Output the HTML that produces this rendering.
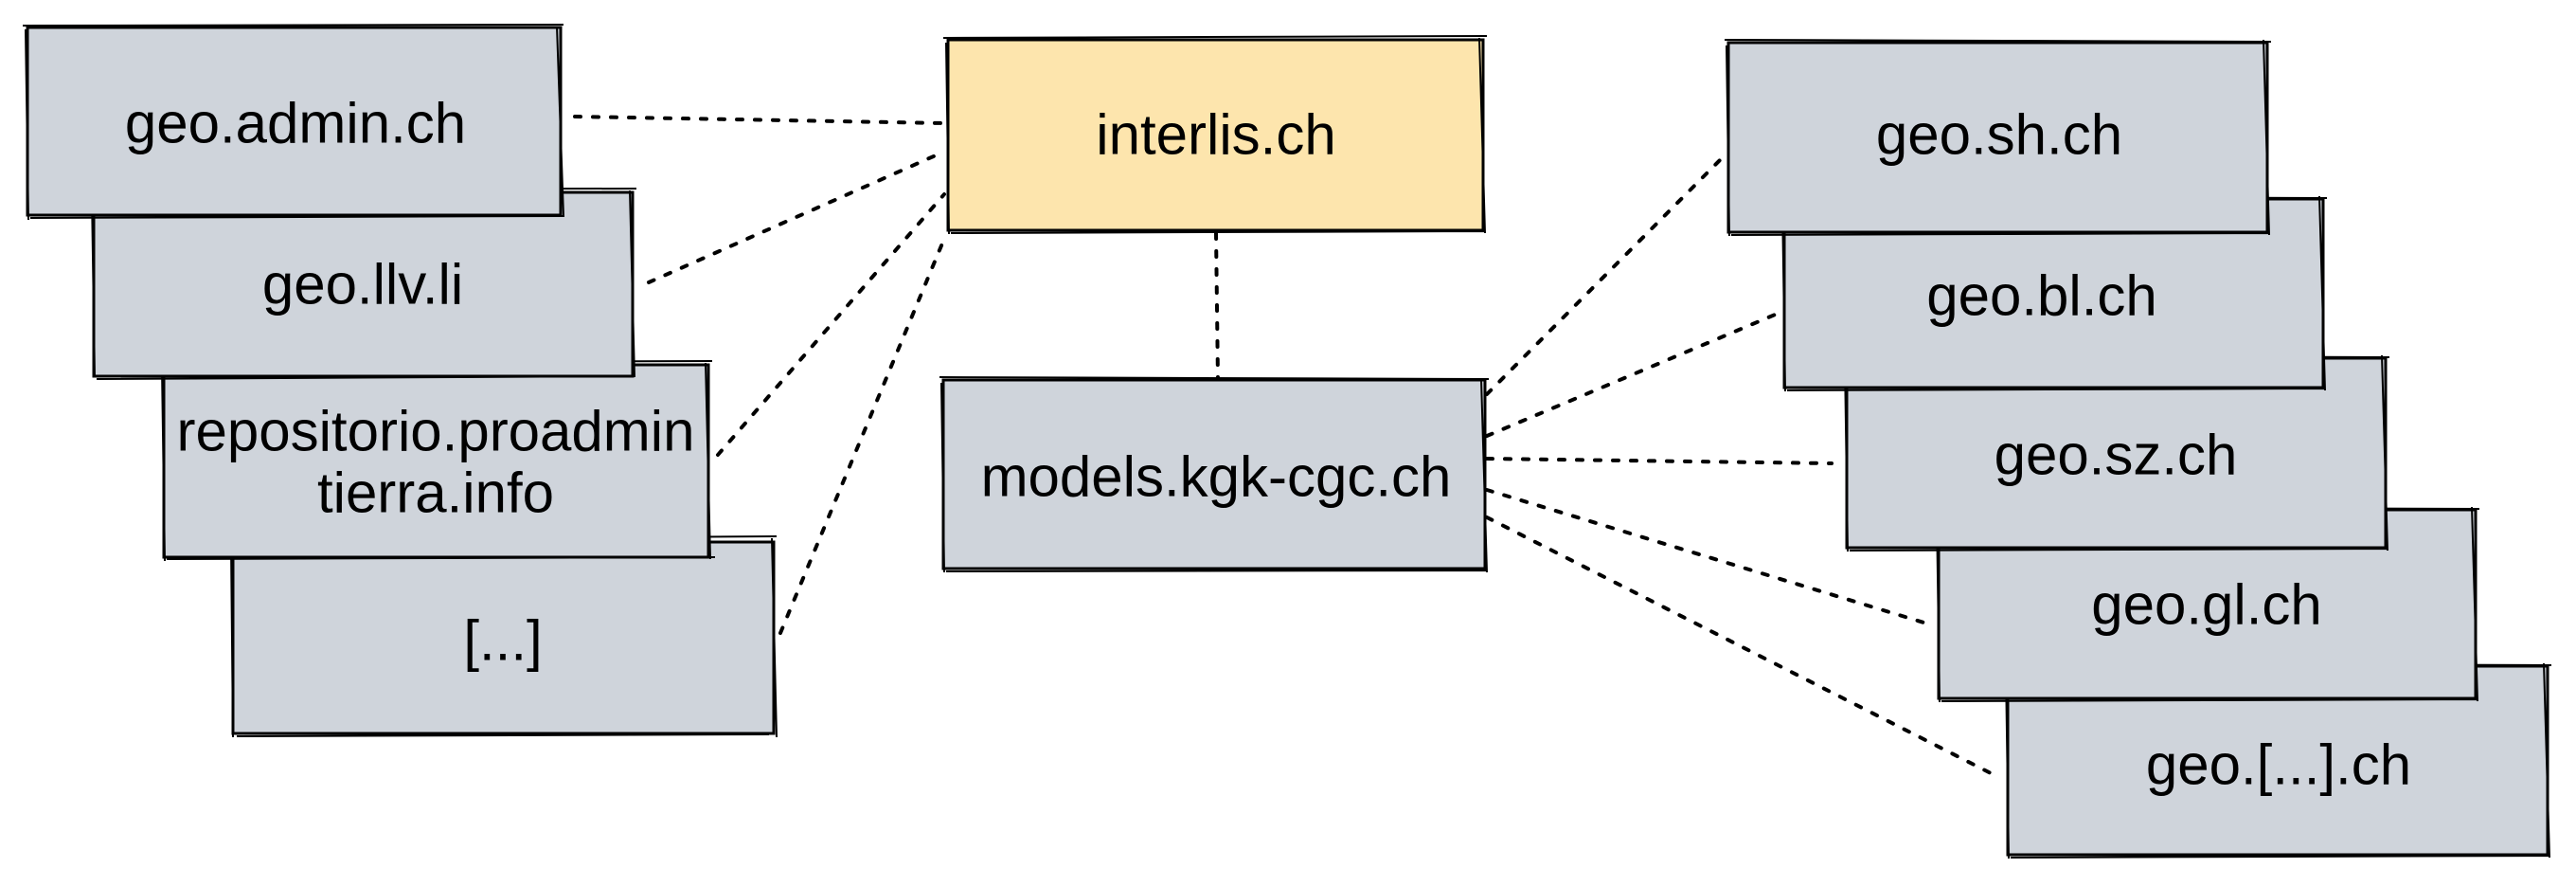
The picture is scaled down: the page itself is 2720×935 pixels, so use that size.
<!DOCTYPE html>
<html><head><meta charset="utf-8"><style>
html,body{margin:0;padding:0;background:#fff;}
svg{display:block;}
text{font-family:"Liberation Sans",sans-serif;font-size:60px;fill:#000;text-anchor:middle;dominant-baseline:central;}
</style></head><body>
<svg width="2720" height="935" viewBox="0 0 2720 935" xmlns="http://www.w3.org/2000/svg">
<g stroke="#000" stroke-width="4" stroke-dasharray="6 13" fill="none" stroke-linecap="round">
<line x1="607" y1="123" x2="997" y2="130"/>
<line x1="685" y1="298" x2="997" y2="160"/>
<line x1="758" y1="480" x2="997" y2="205"/>
<line x1="824" y1="668" x2="997" y2="252"/>
<line x1="1284" y1="246" x2="1286" y2="401"/>
<line x1="1570" y1="416" x2="1820" y2="165"/>
<line x1="1570" y1="460" x2="1879" y2="330"/>
<line x1="1570" y1="484" x2="1934" y2="489"/>
<line x1="1570" y1="517" x2="2038" y2="659"/>
<line x1="1570" y1="546" x2="2108" y2="819"/>
</g>
<g stroke="#000" stroke-width="3" fill="#cfd4db">
<rect x="246" y="572" width="571" height="202"/>
<path d="M240 570 L820 566 M250 777 L812 775 M244 576 L246 778 M815 568 L820 778" fill="none" stroke-width="2"/>
<rect x="173" y="385" width="575" height="203"/>
<path d="M168 383 L752 381 M176 590 L755 588 M171 388 L174 592 M745 383 L750 590" fill="none" stroke-width="2"/>
<rect x="99" y="203" width="569" height="194"/>
<path d="M94 200 L672 199 M102 400 L670 397 M97 206 L100 398 M665 201 L670 398" fill="none" stroke-width="2"/>
<rect x="29" y="29" width="563" height="198"/>
<path d="M24 27 L595 26 M32 230 L596 228 M27 31 L30 232 M588 28 L595 228" fill="none" stroke-width="2"/>
<rect x="1001" y="42" width="565" height="201" fill="#fde5ad"/>
<path d="M996 40 L1570 38 M1004 246 L1568 244 M999 45 L1002 247 M1562 40 L1568 246" fill="none" stroke-width="2"/>
<rect x="996" y="401" width="572" height="199"/>
<path d="M992 398 L1572 400 M999 603 L1570 602 M994 404 L997 604 M1564 400 L1570 604" fill="none" stroke-width="2"/>
<rect x="2120" y="703" width="570" height="199"/>
<path d="M2116 700 L2694 702 M2123 905 L2692 903 M2118 706 L2121 906 M2686 700 L2692 905" fill="none" stroke-width="2"/>
<rect x="2047" y="538" width="567" height="199"/>
<path d="M2043 535 L2618 537 M2050 740 L2616 738 M2045 541 L2048 741 M2610 535 L2616 740" fill="none" stroke-width="2"/>
<rect x="1950" y="378" width="569" height="200"/>
<path d="M1946 375 L2523 377 M1953 581 L2521 579 M1948 381 L1951 582 M2515 375 L2521 581" fill="none" stroke-width="2"/>
<rect x="1884" y="210" width="569" height="199"/>
<path d="M1880 207 L2457 209 M1887 412 L2455 410 M1882 213 L1885 413 M2449 207 L2455 412" fill="none" stroke-width="2"/>
<rect x="1825" y="45" width="569" height="200"/>
<path d="M1821 42 L2398 44 M1828 248 L2396 246 M1823 48 L1826 249 M2390 42 L2396 248" fill="none" stroke-width="2"/>
</g>
<text x="312" y="130">geo.admin.ch</text>
<text x="383" y="300">geo.llv.li</text>
<text x="460" y="455">repositorio.proadmin</text>
<text x="460" y="520">tierra.info</text>
<text x="531" y="676">[...]</text>
<text x="1284" y="142">interlis.ch</text>
<text x="1284" y="503">models.kgk-cgc.ch</text>
<text x="2111" y="142">geo.sh.ch</text>
<text x="2156" y="312">geo.bl.ch</text>
<text x="2234" y="480">geo.sz.ch</text>
<text x="2330" y="638">geo.gl.ch</text>
<text x="2406" y="807">geo.[...].ch</text>
</svg>
</body></html>
